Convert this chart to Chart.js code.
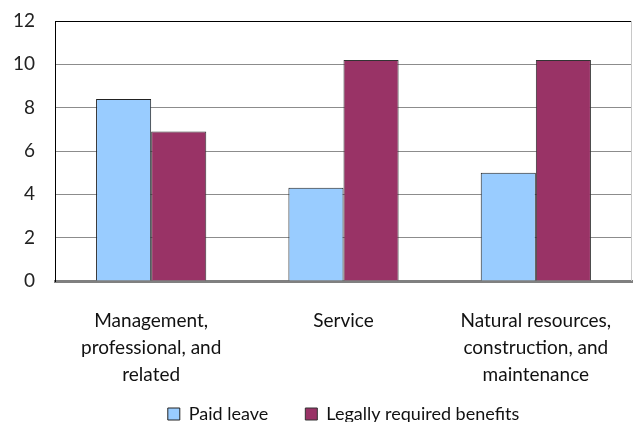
<!DOCTYPE html>
<html>
<head>
<meta charset="utf-8">
<script src="https://cdn.jsdelivr.net/npm/chart.js@4/dist/chart.umd.min.js"></script>
<style>
  html, body { margin: 0; padding: 0; background: #fff; }
  #wrap { width: 633px; height: 422px; }
</style>
</head>
<body>
<div id="wrap"><canvas id="chart-1"></canvas></div>
<script>
const categories = [
    ['Management,', 'professional, and', 'related'],
    ['Service'],
    ['Natural resources,', 'construction, and', 'maintenance']
]
const paidLeave = [8.4, 4.3, 5.0]
const legallyRequired = [6.9, 10.2, 10.2]
const yTicks = [0, 2, 4, 6, 8, 10, 12]

const fontFamily = 'Lato, "Open Sans", sans-serif'

// right side of the plot frame (light gray)
const framePlugin = {
    id: 'frame',
    afterDraw(chart) {
        const { ctx, chartArea } = chart;
        ctx.save();
        ctx.strokeStyle = '#c8c8c8';
        ctx.lineWidth = 1;
        ctx.beginPath();
        ctx.moveTo(chartArea.right - 0.5, chartArea.top);
        ctx.lineTo(chartArea.right - 0.5, chartArea.bottom);
        ctx.stroke();
        ctx.restore();
    }
};

const ctx1 = document.getElementById('chart-1');

new Chart(ctx1, {
    type: 'bar',
    data: {
        labels: categories,
        datasets: [
            {
                label: 'Paid leave',
                data: paidLeave,
                backgroundColor: '#99CCFF',
                borderColor: '#222222',
                borderWidth: 1,
                categoryPercentage: 0.573,
                barPercentage: 1
            },
            {
                label: 'Legally required benefits',
                data: legallyRequired,
                backgroundColor: '#993366',
                borderColor: '#333333',
                borderWidth: 1,
                categoryPercentage: 0.573,
                barPercentage: 1
            }
        ]
    },
    options: {
        responsive: true,
        maintainAspectRatio: false,
        animation: false,
        layout: {
            padding: { top: 21, right: 1, left: 0, bottom: -11 }
        },
        plugins: {
            legend: {
                position: 'bottom',
                fullSize: false,
                labels: {
                    font: { family: fontFamily, size: 18 },
                    color: '#111',
                    boxWidth: 12,
                    boxHeight: 12,
                    padding: 10,
                    // extra room after the first item, like the original gap
                    generateLabels(chart) {
                        const items = Chart.defaults.plugins.legend.labels.generateLabels(chart);
                        items[0].text = items[0].text + '\u2003\u2003';
                        return items;
                    }
                }
            },
            tooltip: { enabled: false }
        },
        scales: {
            x: {
                grid: { display: false },
                border: { color: '#808080', width: 3 },
                ticks: {
                    font: { family: fontFamily, size: 19, lineHeight: 1.42 },
                    color: '#111',
                    padding: 18,
                    maxRotation: 0,
                    autoSkip: false
                },
                afterFit(scale) { scale.height = 114; }
            },
            y: {
                min: 0,
                max: 12,
                afterBuildTicks(scale) {
                    scale.ticks = yTicks.map(v => ({ value: v }));
                },
                grid: {
                    color: (c) => c.tick && c.tick.value === 12 ? '#000' : '#8c8c8c',
                    lineWidth: 1,
                    drawTicks: true,
                    tickLength: 20,
                    tickColor: 'rgba(0,0,0,0)'
                },
                border: { color: '#000', width: 1 },
                ticks: {
                    font: { family: fontFamily, size: 19 },
                    color: '#222',
                    padding: 0
                },
                afterFit(scale) { scale.width = 55; }
            }
        }
    },
    plugins: [framePlugin]
});
</script>
</body>
</html>
